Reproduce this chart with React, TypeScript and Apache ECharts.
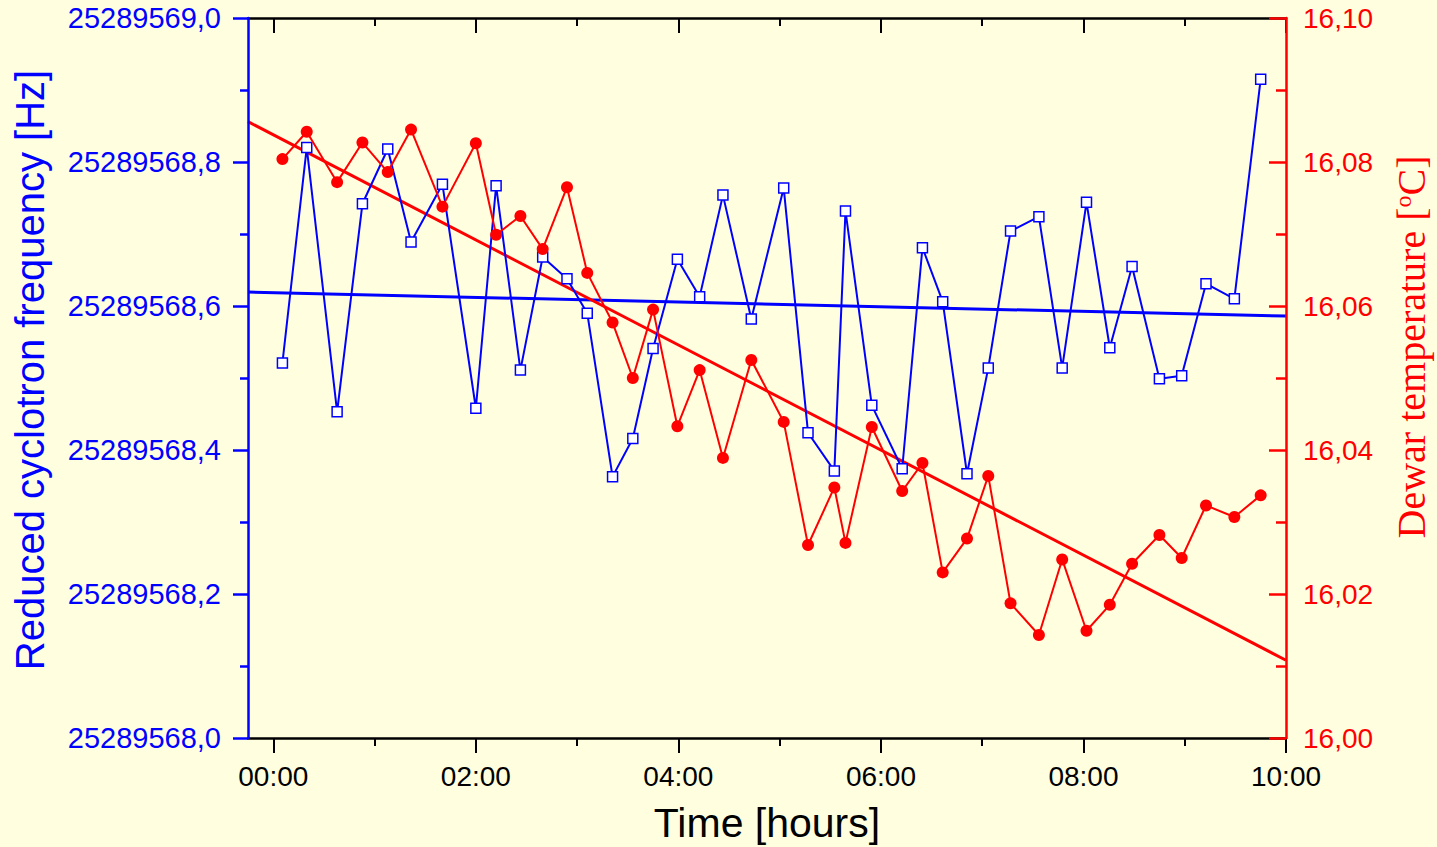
import React, { useEffect, useRef } from "react";
import * as echarts from "echarts";

// Time of each measurement [hours]
const timeHours = [
  0.09, 0.33, 0.63, 0.88, 1.13, 1.36, 1.67, 2.0, 2.2, 2.44, 2.66, 2.9, 3.1, 3.35,
  3.55, 3.75, 3.99, 4.21, 4.44, 4.72, 5.04, 5.28, 5.54, 5.65, 5.91, 6.21, 6.41,
  6.61, 6.85, 7.06, 7.28, 7.56, 7.79, 8.03, 8.26, 8.48, 8.75, 8.97, 9.21, 9.49, 9.75,
];

// Reduced cyclotron frequency [Hz]
const frequencyHz = [
  25289568.521, 25289568.82, 25289568.453, 25289568.742, 25289568.818, 25289568.689,
  25289568.769, 25289568.458, 25289568.767, 25289568.511, 25289568.668, 25289568.638,
  25289568.59, 25289568.363, 25289568.416, 25289568.541, 25289568.665, 25289568.613,
  25289568.754, 25289568.582, 25289568.764, 25289568.424, 25289568.371, 25289568.732,
  25289568.462, 25289568.374, 25289568.681, 25289568.606, 25289568.367, 25289568.514,
  25289568.704, 25289568.724, 25289568.514, 25289568.744, 25289568.542, 25289568.655,
  25289568.499, 25289568.503, 25289568.631, 25289568.61, 25289568.915,
];

// Dewar temperature [°C]
const temperatureC = [
  16.0804, 16.0842, 16.0772, 16.0827, 16.0786, 16.0845, 16.0738, 16.0826, 16.0699,
  16.0725, 16.0679, 16.0765, 16.0646, 16.0577, 16.05, 16.0595, 16.0433, 16.0511,
  16.0389, 16.0525, 16.0439, 16.0268, 16.0348, 16.0271, 16.0432, 16.0343, 16.0382,
  16.023, 16.0277, 16.0364, 16.0187, 16.0143, 16.0248, 16.0149, 16.0185, 16.0242,
  16.0282, 16.025, 16.0323, 16.0307, 16.0337,
];

// Linear fits (end points)
const fitTimes = [-0.25, 10];
const frequencyFit = [25289568.6193, 25289568.586];
const temperatureFit = [16.0856, 16.0108];

// Axis ticks
const xMajorTicks = [0, 2, 4, 6, 8, 10];
const xMinorTicks = [1, 3, 5, 7, 9];

const BG = "#FFFFE0";
const BLUE = "#0000FF";
const RED = "#FF0000";
const SANS = "'Liberation Sans', Arial, sans-serif";
const SERIF = "'Liberation Serif', 'Times New Roman', serif";

export default function App() {
  const ref = useRef<HTMLDivElement>(null);

  useEffect(() => {
    if (!ref.current) return;
    const chart = echarts.init(ref.current, undefined, { renderer: "svg" });

    const xMin = -0.25;
    const xMax = 10;
    const fmtTime = (v: number) => String(Math.round(v)).padStart(2, "0") + ":00";

    const xBase = {
      type: "value" as const,
      min: xMin,
      max: xMax,
      splitLine: { show: false },
    };

    const option: any = {
      animation: false,
      backgroundColor: BG,
      grid: {
        left: 248,
        right: 151,
        top: 18,
        bottom: 109,
        containLabel: false,
        outerBoundsMode: "none",
      },
      xAxis: [
        {
          ...xBase,
          position: "bottom",
          axisLine: { show: true, onZero: false, lineStyle: { color: "#000", width: 2.5 } },
          axisTick: {
            show: true,
            customValues: xMajorTicks,
            length: 15,
            lineStyle: { color: "#000", width: 2 },
          },
          axisLabel: {
            show: true,
            customValues: xMajorTicks,
            formatter: fmtTime,
            fontSize: 28,
            fontFamily: SANS,
            color: "#000",
            margin: 24,
          },
        },
        {
          ...xBase,
          position: "bottom",
          axisLine: { show: false, onZero: false },
          axisTick: {
            show: true,
            customValues: xMinorTicks,
            length: 8,
            lineStyle: { color: "#000", width: 2 },
          },
          axisLabel: { show: false },
        },
        {
          ...xBase,
          position: "top",
          axisLine: { show: true, onZero: false, lineStyle: { color: "#000", width: 2.5 } },
          axisTick: {
            show: true,
            inside: true,
            customValues: xMajorTicks,
            length: 15,
            lineStyle: { color: "#000", width: 2 },
          },
          axisLabel: { show: false },
        },
        {
          ...xBase,
          position: "top",
          axisLine: { show: false, onZero: false },
          axisTick: {
            show: true,
            inside: true,
            customValues: xMinorTicks,
            length: 8,
            lineStyle: { color: "#000", width: 2 },
          },
          axisLabel: { show: false },
        },
      ],
      yAxis: [
        {
          type: "value",
          position: "left",
          min: 25289568,
          max: 25289569,
          interval: 0.2,
          splitLine: { show: false },
          axisLine: { show: true, onZero: false, lineStyle: { color: BLUE, width: 2.5 } },
          axisTick: { show: true, length: 15, lineStyle: { color: BLUE, width: 2.5 } },
          minorTick: { show: true, splitNumber: 2, length: 8, lineStyle: { color: BLUE, width: 2.5 } },
          axisLabel: {
            formatter: (v: number) => v.toFixed(1).replace(".", ","),
            fontSize: 29,
            fontFamily: SANS,
            color: BLUE,
            margin: 27,
          },
          z: 5,
        },
        {
          type: "value",
          position: "right",
          min: 16,
          max: 16.1,
          interval: 0.02,
          splitLine: { show: false },
          axisLine: { show: true, onZero: false, lineStyle: { color: RED, width: 2.5 } },
          axisTick: { show: true, inside: true, length: 17, lineStyle: { color: RED, width: 2.5 } },
          minorTick: { show: true, splitNumber: 2, length: 10, lineStyle: { color: RED, width: 2.5 } },
          axisLabel: {
            formatter: (v: number) => v.toFixed(2).replace(".", ","),
            fontSize: 28,
            fontFamily: SANS,
            color: RED,
            margin: 17,
          },
          z: 5,
        },
      ],
      series: [
        {
          name: "Frequency fit",
          type: "line",
          xAxisIndex: 0,
          yAxisIndex: 0,
          data: fitTimes.map((t, i) => [t, frequencyFit[i]]),
          symbol: "none",
          lineStyle: { color: BLUE, width: 3 },
          z: 2,
        },
        {
          name: "Temperature fit",
          type: "line",
          xAxisIndex: 0,
          yAxisIndex: 1,
          data: fitTimes.map((t, i) => [t, temperatureFit[i]]),
          symbol: "none",
          lineStyle: { color: RED, width: 3 },
          z: 2,
        },
        {
          name: "Frequency",
          type: "line",
          xAxisIndex: 0,
          yAxisIndex: 0,
          data: timeHours.map((t, i) => [t, frequencyHz[i]]),
          symbol: "rect",
          symbolSize: 10,
          showAllSymbol: true,
          lineStyle: { color: BLUE, width: 2 },
          itemStyle: { color: "#FFFFFF", borderColor: BLUE, borderWidth: 1.5 },
          z: 3,
        },
        {
          name: "Temperature",
          type: "line",
          xAxisIndex: 0,
          yAxisIndex: 1,
          data: timeHours.map((t, i) => [t, temperatureC[i]]),
          symbol: "circle",
          symbolSize: 12,
          showAllSymbol: true,
          lineStyle: { color: RED, width: 2 },
          itemStyle: { color: RED, borderWidth: 0 },
          z: 4,
        },
      ],
      graphic: [
        {
          type: "text",
          x: 30,
          y: 370,
          rotation: Math.PI / 2,
          style: {
            text: "Reduced cyclotron frequency [Hz]",
            font: `40px ${SANS}`,
            fill: BLUE,
            align: "center",
            verticalAlign: "middle",
          },
        },
        {
          type: "text",
          x: 1411,
          y: 347,
          rotation: Math.PI / 2,
          style: {
            text: "Dewar temperature [{sup|o}C]",
            fontSize: 40,
            fontFamily: SERIF,
            fill: RED,
            align: "center",
            verticalAlign: "middle",
            rich: {
              sup: {
                fontSize: 24,
                fontFamily: SERIF,
                fill: RED,
                verticalAlign: "top",
                lineHeight: 40,
              },
            },
          },
        },
        {
          type: "text",
          x: 767,
          y: 823,
          style: {
            text: "Time [hours]",
            font: `41px ${SANS}`,
            fill: "#000",
            align: "center",
            verticalAlign: "middle",
          },
        },
      ],
    };

    chart.setOption(option);
    return () => chart.dispose();
  }, []);

  return (
    <div
      ref={ref}
      style={{
        position: "absolute",
        left: 0,
        top: 0,
        width: 1437,
        height: 847,
        background: BG,
      }}
    />
  );
}
